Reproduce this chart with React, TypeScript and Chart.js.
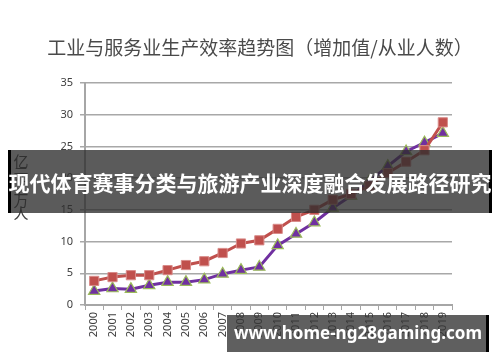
import React, { useEffect, useRef } from "react";
import { Chart, registerables } from "chart.js";

Chart.register(...registerables);

const years = ["2000","2001","2002","2003","2004","2005","2006","2007","2008","2009","2010","2011","2012","2013","2014","2015","2016","2017","2018","2019"];
const serviceValues = [3.8,4.4,4.7,4.7,5.5,6.3,6.9,8.2,9.7,10.2,12.0,13.9,15.0,16.6,17.5,18.8,20.8,22.6,24.4,28.8];
const industryValues = [2.2,2.6,2.5,3.1,3.6,3.6,4.0,4.9,5.5,6.0,9.4,11.2,13.0,15.3,17.2,19.5,21.9,24.2,25.6,27.1];
const titleText = "工业与服务业生产效率趋势图（增加值/从业人数）";
const yLabelChars = ["亿", "元", "/", "万", "人"];
const bannerText = "现代体育赛事分类与旅游产业深度融合发展路径研究";
const watermarkText = "www.home-ng28gaming.com";

const overlayPlugin = {
  id: "overlay",
  afterDraw(chart: any) {
    const ctx = chart.ctx as CanvasRenderingContext2D;
    ctx.save();
    // title
    ctx.fillStyle = "#4a4a4a";
    ctx.font = '19px "Noto Sans CJK SC"';
    ctx.textAlign = "center";
    ctx.textBaseline = "middle";
    ctx.fillText(titleText, 260, 48);
    // y label (stacked)
    ctx.font = '15px "Noto Sans CJK SC"';
    ctx.fillStyle = "#404040";
    yLabelChars.forEach((c, i) => ctx.fillText(c, 21, 161 + i * 13));
    // banner
    ctx.fillStyle = "rgba(45,45,45,0.78)";
    ctx.fillRect(8, 150, 484, 63);
    ctx.fillStyle = "#000";
    ctx.fillRect(8, 150, 3, 63);
    ctx.fillRect(489, 150, 3, 63);
    ctx.fillStyle = "#ffffff";
    ctx.font = 'bold 21px "Noto Sans CJK SC"';
    ctx.fillText(bannerText, 250, 183, 484);
    // watermark
    ctx.fillStyle = "rgba(55,55,55,0.8)";
    ctx.fillRect(227, 315, 260, 37);
    ctx.fillStyle = "#000";
    ctx.fillRect(486, 315, 3, 37);
    ctx.fillStyle = "#ffffff";
    ctx.font = 'bold 17px "Noto Sans"';
    ctx.fillText(watermarkText, 358, 334);
    ctx.restore();
  },
};

export default function App() {
  const ref = useRef<HTMLCanvasElement>(null);
  useEffect(() => {
    if (!ref.current) return;
    const chart = new Chart(ref.current, {
      type: "line",
      data: {
        labels: years,
        datasets: [
          {
            label: "服务业",
            data: serviceValues,
            borderColor: "#C0504D",
            backgroundColor: "#C0504D",
            borderWidth: 3,
            pointStyle: "rect",
            pointRadius: 6.5,
            pointBackgroundColor: "#C0504D",
            pointBorderColor: "#D98C8A",
            pointBorderWidth: 1,
            tension: 0,
          },
          {
            label: "工业",
            data: industryValues,
            borderColor: "#7030A0",
            backgroundColor: "#7030A0",
            borderWidth: 3,
            pointStyle: "triangle",
            pointRadius: 6.5,
            pointBackgroundColor: "#7030A0",
            pointBorderColor: "#9BBB59",
            pointBorderWidth: 1.2,
            tension: 0,
          },
        ],
      },
      options: {
        responsive: false,
        animation: false,
        devicePixelRatio: 1,
        layout: { padding: { left: 0, right: 48, top: 83, bottom: 0 } },
        plugins: { legend: { display: false }, tooltip: { enabled: false }, title: { display: false } },
        scales: {
          x: {
            offset: true,
            afterFit: (s: any) => { s.height = 57; },
            grid: { offset: true, drawOnChartArea: false, drawTicks: true, tickLength: 5, color: "#A6A6A6", lineWidth: 1 },
            border: { color: "#A6A6A6", width: 2 },
            ticks: { autoSkip: false, maxRotation: 90, minRotation: 90, padding: 2, color: "#404040", font: { family: "Noto Sans", size: 11 } },
          },
          y: {
            min: 0,
            max: 35,
            afterFit: (s: any) => { s.width = 85; },
            ticks: { stepSize: 5, padding: 7, color: "#404040", font: { family: "Noto Sans", size: 11 } },
            grid: { color: "#A8A8A8", lineWidth: 1.5, tickLength: 5 },
            border: { color: "#A6A6A6", width: 2 },
          },
        },
      },
      plugins: [overlayPlugin],
    });
    return () => chart.destroy();
  }, []);
  return (
    <div style={{ position: "fixed", left: 0, top: 0, width: 500, height: 362, background: "#fff" }}>
      <canvas ref={ref} width={500} height={362} />
    </div>
  );
}
